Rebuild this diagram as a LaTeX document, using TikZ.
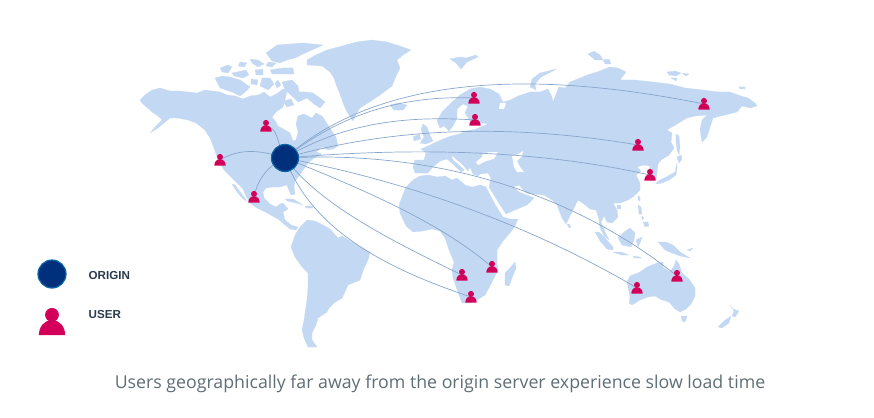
\documentclass[tikz,border=0pt]{standalone}
\usepackage{fontspec}
\setmainfont{Open Sans}
\newfontfamily\legendfont{Liberation Sans}
\pgfdeclarelayer{maplayer}
\pgfdeclarelayer{linelayer}
\pgfsetlayers{maplayer,linelayer,main}
\definecolor{landc}{HTML}{C3D8F3}
\definecolor{arcc}{HTML}{87A6CC}
\definecolor{userc}{HTML}{D3005A}
\definecolor{originc}{HTML}{002F7C}
\definecolor{originb}{HTML}{0B66A6}
\definecolor{legendc}{HTML}{2C3A4E}
\definecolor{capc}{HTML}{5E6E75}
\tikzset{
  land/.style={fill=landc,line join=round,draw=landc,line width=0.2pt},
  seaw/.style={fill=white,line join=round},
  arc/.style={draw=arcc,line width=0.7pt},
  anchorbox/.style={inner sep=0pt,minimum size=6pt,shape=circle},
  originnode/.style={shape=circle,fill=originc,draw=originb,line width=1.2pt,inner sep=0pt,minimum size=27pt},
  legendtext/.style={font=\legendfont\bfseries\fontsize{11.6}{13}\selectfont,text=legendc,anchor=west,inner sep=0pt},
  caption/.style={font=\fontsize{17.75}{21}\selectfont,text=capc,inner sep=0pt}
}
\newcommand{\personat}[4]{% name, x, y, scale
  \node[anchorbox] (#1) at (#2,#3) {};
  \begin{scope}[shift={(#2,#3)},scale=#4]
    \fill[userc] (0,-3.1) circle (3);
    \fill[userc] (-5.7,5.7) .. controls (-5.7,2.2) and (-3.6,-0.8) .. (0,-0.8) .. controls (3.6,-0.8) and (5.7,2.2) .. (5.7,5.7) -- cycle;
  \end{scope}
}
\begin{document}
\begin{tikzpicture}[x=1pt,y=-1pt]
\useasboundingbox (0,0) rectangle (874,417);
\begin{pgfonlayer}{maplayer}
% North America
\fill[land] (142,103) -- (140,100) -- (145,95) -- (152,90) -- (160,88) -- (170,91) -- (180,91) -- (197,93) -- (205,90) -- (212,91) -- (220,92) -- (227,95) -- (235,96) -- (243,99) -- (250,96) -- (258,95) -- (264,92) -- (270,97) -- (278,93) -- (283,89) -- (287,91) -- (285,100) -- (283,107) -- (276,112) -- (272,117) -- (276,122) -- (278,126) -- (285,130) -- (290,133) -- (293,141) -- (296,140) -- (298,132) -- (296,124) -- (298,116) -- (304,114) -- (312,118) -- (316,113) -- (322,116) -- (326,122) -- (331,130) -- (336,137) -- (338,146) -- (333,149) -- (328,150) -- (322,147) -- (316,152) -- (322,154) -- (314,158) -- (308,163) -- (303,170) -- (299,176) -- (295,181) -- (294,187) -- (295,194) -- (291,195) -- (288,188) -- (287,185) -- (280,187) -- (273,187) -- (266,188) -- (263,192) -- (264,198) -- (270,204) -- (276,207) -- (280,204) -- (283,203) -- (288,209) -- (283,212) -- (285,220) -- (291,225) -- (298,227) -- (296,230) -- (290,229) -- (284,224) -- (278,219) -- (267,213) -- (257,208) -- (250,203) -- (246,196) -- (243,189) -- (237,183) -- (230,176) -- (224,170) -- (218,160) -- (214,148) -- (210,138) -- (205,130) -- (196,123) -- (188,120) -- (177,118) -- (170,118) -- (165,122) -- (158,128) -- (150,133) -- (156,126) -- (162,120) -- (158,116) -- (152,112) -- cycle;
% Baja
\fill[land] (232,184) -- (235,185) -- (241,193) -- (247,201) -- (243,199) -- (237,192) -- cycle;
% Arctic islands
\fill[land] (215,78) -- (222,76) -- (230,77) -- (240,80) -- (250,87) -- (245,92) -- (240,96) -- (232,92) -- (220,88) -- cycle;
\fill[land] (220,68) -- (228,65) -- (232,67) -- (228,73) -- (222,72) -- cycle;
\fill[land] (232,73) -- (246,70) -- (249,75) -- (243,78) -- (234,76) -- cycle;
\fill[land] (250,59) -- (258,60) -- (264,64) -- (258,67) -- (252,63) -- cycle;
\fill[land] (255,70) -- (263,69) -- (263,75) -- (256,75) -- cycle;
\fill[land] (266,53) -- (277,45) -- (290,44) -- (303,43) -- (323,45) -- (312,50) -- (303,54) -- (295,58) -- (287,60) -- (280,63) -- (272,61) -- cycle;
\fill[land] (270,70) -- (282,68) -- (293,68) -- (294,74) -- (284,74) -- (272,74) -- cycle;
\fill[land] (262,78) -- (270,78) -- (274,84) -- (268,90) -- (260,86) -- cycle;
\fill[land] (282,82) -- (292,80) -- (298,86) -- (299,92) -- (306,92) -- (313,93) -- (320,98) -- (325,102) -- (320,108) -- (314,104) -- (307,98) -- (298,102) -- (292,96) -- (285,90) -- cycle;
\fill[land] (283,101) -- (291,99) -- (294,105) -- (287,107) -- cycle;
\fill[land] (278,80) -- (281,85) -- (277,88) -- (275,83) -- cycle;
\fill[land] (268,62) -- (276,63) -- (272,67) -- (266,66) -- cycle;
\fill[land] (240,62) -- (247,63) -- (244,67) -- (238,66) -- cycle;
\fill[land] (251,79) -- (258,80) -- (257,85) -- (251,84) -- cycle;
% Newfoundland
\fill[land] (322,141) -- (329,139) -- (332,143) -- (326,146) -- cycle;
% Greenland
\fill[land] (307,60) -- (316,55) -- (327,50) -- (342,46) -- (357,42) -- (372,40) -- (387,42) -- (400,46) -- (411,50) -- (403,55) -- (397,60) -- (400,68) -- (396,76) -- (392,86) -- (380,95) -- (368,103) -- (360,108) -- (356,114) -- (353,121) -- (347,112) -- (343,103) -- (340,94) -- (337,87) -- (334,78) -- (330,72) -- (322,66) -- (307,65) -- cycle;
% Iceland
\fill[land] (390,105) -- (398,103) -- (407,105) -- (403,110) -- (394,110) -- cycle;
% Cuba, Hispaniola
\fill[land] (285,199) -- (293,199) -- (303,205) -- (296,203) -- (287,201) -- cycle;
\fill[land] (305,206) -- (312,206) -- (313,208) -- (306,208) -- cycle;
% South America
\fill[land] (295,235) -- (300,227) -- (307,220) -- (315,221) -- (323,225) -- (330,229) -- (338,238) -- (342,236) -- (350,241) -- (357,245) -- (370,252) -- (368,260) -- (364,268) -- (360,280) -- (348,285) -- (345,292) -- (342,298) -- (334,303) -- (329,308) -- (327,312) -- (318,318) -- (316,325) -- (312,333) -- (312,340) -- (317,347) -- (308,347) -- (304,338) -- (302,330) -- (304,320) -- (305,313) -- (307,300) -- (308,287) -- (308,273) -- (302,267) -- (295,257) -- (291,247) -- cycle;
% Africa
\fill[land] (402,197) -- (406,187) -- (413,180) -- (420,176) -- (428,175) -- (437,177) -- (445,176) -- (452,180) -- (457,178) -- (465,185) -- (472,187) -- (480,185) -- (486,187) -- (490,195) -- (496,206) -- (503,217) -- (510,219) -- (518,219) -- (515,226) -- (510,233) -- (503,241) -- (497,250) -- (497,263) -- (498,270) -- (493,280) -- (490,286) -- (485,295) -- (477,300) -- (470,303) -- (462,303) -- (458,292) -- (453,278) -- (452,270) -- (454,262) -- (449,250) -- (445,238) -- (440,231) -- (432,229) -- (423,231) -- (413,232) -- (406,226) -- (400,213) -- (399,205) -- cycle;
% Madagascar
\fill[land] (505,273) -- (510,268) -- (515,262) -- (516,268) -- (512,278) -- (509,286) -- (505,285) -- cycle;
% Eurasia
\fill[land] (415,160) -- (424,160) -- (426,153) -- (421,149) -- (428,146) -- (434,143) -- (443,139) -- (451,136) -- (459,134) -- (466,131) -- (476,129) -- (488,124) -- (478,122) -- (470,121) -- (465,113) -- (468,106) -- (463,104) -- (457,109) -- (457,118) -- (453,126) -- (449,131) -- (444,126) -- (440,128) -- (437,121) -- (442,112) -- (450,104) -- (460,95) -- (470,89) -- (480,87) -- (490,89) -- (499,94) -- (503,102) -- (510,100) -- (518,96) -- (530,92) -- (540,92) -- (548,89) -- (552,97) -- (553,102) -- (556,94) -- (559,87) -- (565,88) -- (570,82) -- (580,78) -- (587,75) -- (597,72) -- (610,67) -- (618,68) -- (626,72) -- (620,80) -- (635,80) -- (653,82) -- (670,84) -- (685,88) -- (703,90) -- (718,92) -- (730,92) -- (741,96) -- (748,98) -- (755,103) -- (757,106) -- (750,108) -- (742,106) -- (737,112) -- (725,115) -- (713,118) -- (710,127) -- (707,137) -- (702,142) -- (700,130) -- (702,120) -- (707,115) -- (695,116) -- (687,118) -- (677,124) -- (667,130) -- (672,133) -- (671,142) -- (674,148) -- (669,155) -- (661,160) -- (658,164) -- (657,172) -- (656,180) -- (650,180) -- (649,172) -- (650,166) -- (643,165) -- (637,167) -- (641,171) -- (636,175) -- (640,183) -- (640,190) -- (634,196) -- (628,200) -- (620,203) -- (613,203) -- (617,210) -- (618,217) -- (612,223) -- (607,222) -- (604,216) -- (601,222) -- (605,232) -- (609,240) -- (604,236) -- (600,228) -- (599,219) -- (596,210) -- (590,209) -- (584,204) -- (578,200) -- (572,212) -- (566,224) -- (562,218) -- (557,205) -- (552,200) -- (544,195) -- (533,194) -- (526,193) -- (519,185) -- (513,187) -- (519,192) -- (527,195) -- (534,198) -- (527,205) -- (515,210) -- (506,214) -- (500,205) -- (494,195) -- (489,187) -- (491,178) -- (488,173) -- (480,174) -- (478,176) -- (473,174) -- (470,167) -- (468,171) -- (463,165) -- (455,158) -- (451,155) -- (453,160) -- (460,166) -- (464,170) -- (461,172) -- (453,164) -- (447,159) -- (440,161) -- (432,168) -- (428,173) -- (415,173) -- (413,167) -- cycle;
% Black Sea, Caspian
\fill[seaw] (476,162) -- (482,157) -- (483,153) -- (490,152) -- (498,152) -- (494,159) -- (486,161) -- (478,165) -- cycle;
\fill[seaw] (512,156) -- (518,154) -- (523,151) -- (522,156) -- (517,161) -- (520,167) -- (524,172) -- (517,172) -- (514,167) -- (513,162) -- cycle;
% White Sea
\fill[seaw] (500,103) -- (506,103) -- (504,109) -- (499,109) -- cycle;
% Britain, Ireland
\fill[land] (423,124) -- (427,127) -- (430,135) -- (433,141) -- (426,144) -- (420,143) -- (424,137) -- (421,130) -- cycle;
\fill[land] (413,137) -- (419,134) -- (421,139) -- (414,141) -- cycle;
% Svalbard, Novaya Zemlya, arctic Russia
\fill[land] (450,59) -- (460,57) -- (466,58) -- (476,55) -- (478,57) -- (467,62) -- (461,69) -- (456,63) -- cycle;
\fill[land] (530,87) -- (532,79) -- (540,73) -- (556,69) -- (553,71) -- (541,77) -- (535,84) -- (536,90) -- cycle;
\fill[land] (588,54) -- (594,51) -- (600,55) -- (603,60) -- (595,60) -- cycle;
\fill[land] (603,60) -- (609,59) -- (611,64) -- (605,64) -- cycle;
\fill[land] (667,72) -- (675,71) -- (681,73) -- (676,76) -- (669,75) -- cycle;
\fill[land] (682,73) -- (689,74) -- (686,76) -- cycle;
\fill[land] (671,78) -- (677,78) -- (676,81) -- cycle;
\fill[land] (739,87) -- (745,87) -- (745,89) -- (740,89) -- cycle;
% Japan, Sakhalin
\fill[land] (676,134) -- (679,136) -- (680,147) -- (679,155) -- (677,150) -- (676,142) -- cycle;
\fill[land] (677,157) -- (681,155) -- (682,159) -- (679,163) -- cycle;
\fill[land] (677,163) -- (675,172) -- (668,176) -- (662,179) -- (657,182) -- (656,184) -- (662,183) -- (669,180) -- (676,175) -- (677,168) -- cycle;
% Taiwan, Hainan, Sri Lanka
\fill[land] (638,196) -- (640,197) -- (640,201) -- (638,200) -- cycle;
\fill[land] (617,205) -- (620,205) -- (620,208) -- (617,208) -- cycle;
\fill[land] (567,224) -- (569,224) -- (571,227) -- (569,228) -- cycle;
% Philippines
\fill[land] (638,205) -- (641,207) -- (642,214) -- (639,214) -- cycle;
\fill[land] (643,222) -- (648,222) -- (649,226) -- (645,227) -- cycle;
\fill[land] (642,216) -- (644,218) -- (642,220) -- cycle;
% Indonesia
\fill[land] (595,232) -- (599,232) -- (605,238) -- (613,247) -- (613,250) -- (607,249) -- (600,241) -- cycle;
\fill[land] (613,252) -- (621,252) -- (629,255) -- (621,255) -- cycle;
\fill[land] (618,238) -- (624,232) -- (630,228) -- (635,233) -- (634,240) -- (631,247) -- (622,245) -- cycle;
\fill[land] (636,240) -- (642,237) -- (640,243) -- (638,247) -- cycle;
\fill[land] (658,242) -- (666,242) -- (673,245) -- (680,252) -- (690,258) -- (680,256) -- (672,253) -- (665,250) -- cycle;
\fill[land] (687,250) -- (693,248) -- (690,251) -- cycle;
\fill[land] (633,256) -- (640,257) -- (641,258) -- (634,258) -- cycle;
% Australia
\fill[land] (627,282) -- (630,276) -- (640,272) -- (647,267) -- (652,265) -- (657,263) -- (663,262) -- (663,267) -- (670,272) -- (674,266) -- (676,260) -- (679,264) -- (682,273) -- (689,279) -- (695,288) -- (695,296) -- (691,304) -- (686,309) -- (680,312) -- (675,309) -- (670,303) -- (666,301) -- (662,300) -- (655,296) -- (648,297) -- (640,300) -- (632,305) -- (629,303) -- (630,297) -- cycle;
\fill[land] (681,316) -- (687,316) -- (685,322) -- (682,321) -- cycle;
% New Zealand
\fill[land] (718,327) -- (724,321) -- (731,316) -- (729,323) -- (722,328) -- cycle;
\fill[land] (730,305) -- (733,309) -- (739,311) -- (735,317) -- (732,316) -- (734,311) -- cycle;
\end{pgfonlayer}
% Origin and users
\node[originnode] (o) at (285,158) {};
\personat{u1}{266}{126}{1}
\personat{u2}{220}{160}{1}
\personat{u3}{254}{197}{1}
\personat{u4}{474}{98}{1}
\personat{u5}{475}{120}{1}
\personat{u6}{704}{104}{1}
\personat{u7}{638}{145}{1}
\personat{u8}{650}{175}{1}
\personat{u9}{462}{275}{1}
\personat{u10}{492}{267}{1}
\personat{u11}{471}{297}{1}
\personat{u12}{637}{288}{1}
\personat{u13}{677}{276}{1}
\begin{pgfonlayer}{linelayer}
\draw[arc] (o.center) .. controls (276,140) and (278,128) .. (u1.center);
\draw[arc] (o.center) .. controls (260,150) and (240,148) .. (u2.center);
\draw[arc] (o.center) .. controls (268,166) and (258,178) .. (u3.center);
\draw[arc] (o.center) .. controls (340,115) and (400,95) .. (u4.center);
\draw[arc] (o.center) .. controls (340,125) and (400,115) .. (u5.center);
\draw[arc] (o.center) .. controls (390,66) and (560,75) .. (u6.center);
\draw[arc] (o.center) .. controls (400,125) and (520,125) .. (u7.center);
\draw[arc] (o.center) .. controls (400,148) and (530,148) .. (u8.center);
\draw[arc] (o.center) .. controls (320,205) and (390,240) .. (u9.center);
\draw[arc] (o.center) .. controls (360,188) and (440,222) .. (u10.center);
\draw[arc] (o.center) .. controls (310,225) and (375,265) .. (u11.center);
\draw[arc] (o.center) .. controls (410,182) and (530,225) .. (u12.center);
\draw[arc] (o.center) .. controls (430,150) and (570,190) .. (u13.center);
\end{pgfonlayer}
% Legend
\node[originnode,minimum size=28pt] (lo) at (52,274) {};
\personat{lu}{52}{322}{2.3}
\node[legendtext] (lot) at (88.5,276) {ORIGIN};
\node[legendtext] (lut) at (88.5,314.5) {USER};
\node[caption] (cap) at (440,384) {Users geographically far away from the origin server experience slow load time};
\end{tikzpicture}
\end{document}
